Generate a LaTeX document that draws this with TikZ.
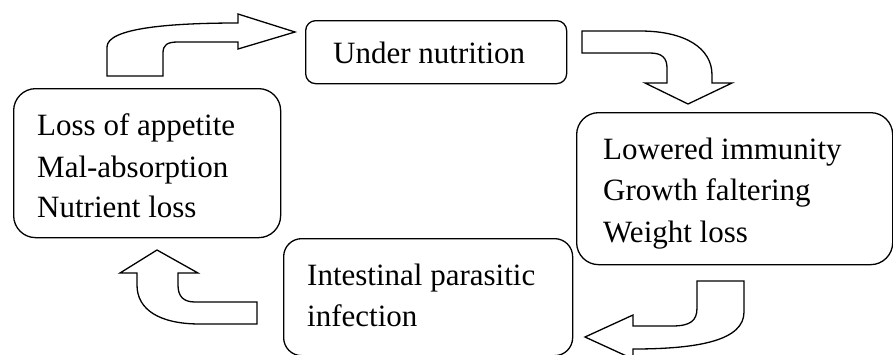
\documentclass[tikz,border=0pt]{standalone}
\usepackage{fontspec}
\setmainfont{Liberation Serif}
\begin{document}
\begin{tikzpicture}[x=1pt,y=-1pt,
  box/.style={draw, line width=1.3pt, rounded corners=#1, anchor=north west, inner sep=0pt},
  lbl/.style={anchor=base west, inner sep=0pt, font=\fontsize{31}{37}\selectfont},
  bentarrow/.style={draw, fill=white, line width=1.3pt, line join=miter}]
\clip (0,0) rectangle (893,354);
% boxes
\node[box=10pt, minimum width=261pt, minimum height=63pt] (un) at (305,20) {};
\node[box=22pt, minimum width=267pt, minimum height=149pt] (lb) at (13,88) {};
\node[box=22pt, minimum width=316pt, minimum height=152pt] (rb) at (576,112) {};
\node[box=18pt, minimum width=289pt, minimum height=117pt] (bb) at (283,238) {};
% texts
\node[lbl] (t1) at (333,63) {Under nutrition};
\node[lbl] (t2) at (37,135) {Loss of appetite};
\node[lbl] (t3) at (37,177) {Mal-absorption};
\node[lbl] (t4) at (37,217) {Nutrient loss};
\node[lbl] (t5) at (603,159) {Lowered immunity};
\node[lbl] (t6) at (603,200) {Growth faltering};
\node[lbl] (t7) at (603,242) {Weight loss};
\node[lbl] (t8) at (307,285) {Intestinal parasitic};
\node[lbl] (t9) at (307,326) {infection};
% block arrows
\draw[bentarrow] (107,76) -- (107,47) .. controls (107,28) and (170,23) .. (238,23)
  -- (238,14) -- (295,32) -- (238,49) -- (238,42) -- (178,42)
  .. controls (167,42) and (163,45) .. (163,53) -- (163,76) -- cycle;
\draw[bentarrow] (582,31) -- (640,31) .. controls (685,31) and (712,48) .. (712,75)
  -- (712,83) -- (732,83) -- (688,104) -- (645,83) -- (667,83) -- (667,68)
  .. controls (667,58) and (662,53) .. (650,53) -- (582,53) -- cycle;
\draw[bentarrow] (697,281) -- (744,281) -- (744,312) .. controls (744,340) and (700,349) .. (633,349)
  -- (633,359) -- (585,337) -- (633,315) -- (633,326) -- (672,326)
  .. controls (690,326) and (697,321) .. (697,308) -- cycle;
\draw[bentarrow] (257,302) -- (257,324) -- (200,324) .. controls (160,324) and (137,310) .. (137,285)
  -- (137,273) -- (120,273) -- (157,250) -- (198,273) -- (178,273) -- (178,285)
  .. controls (178,296) and (183,302) .. (195,302) -- cycle;
\end{tikzpicture}
\end{document}
